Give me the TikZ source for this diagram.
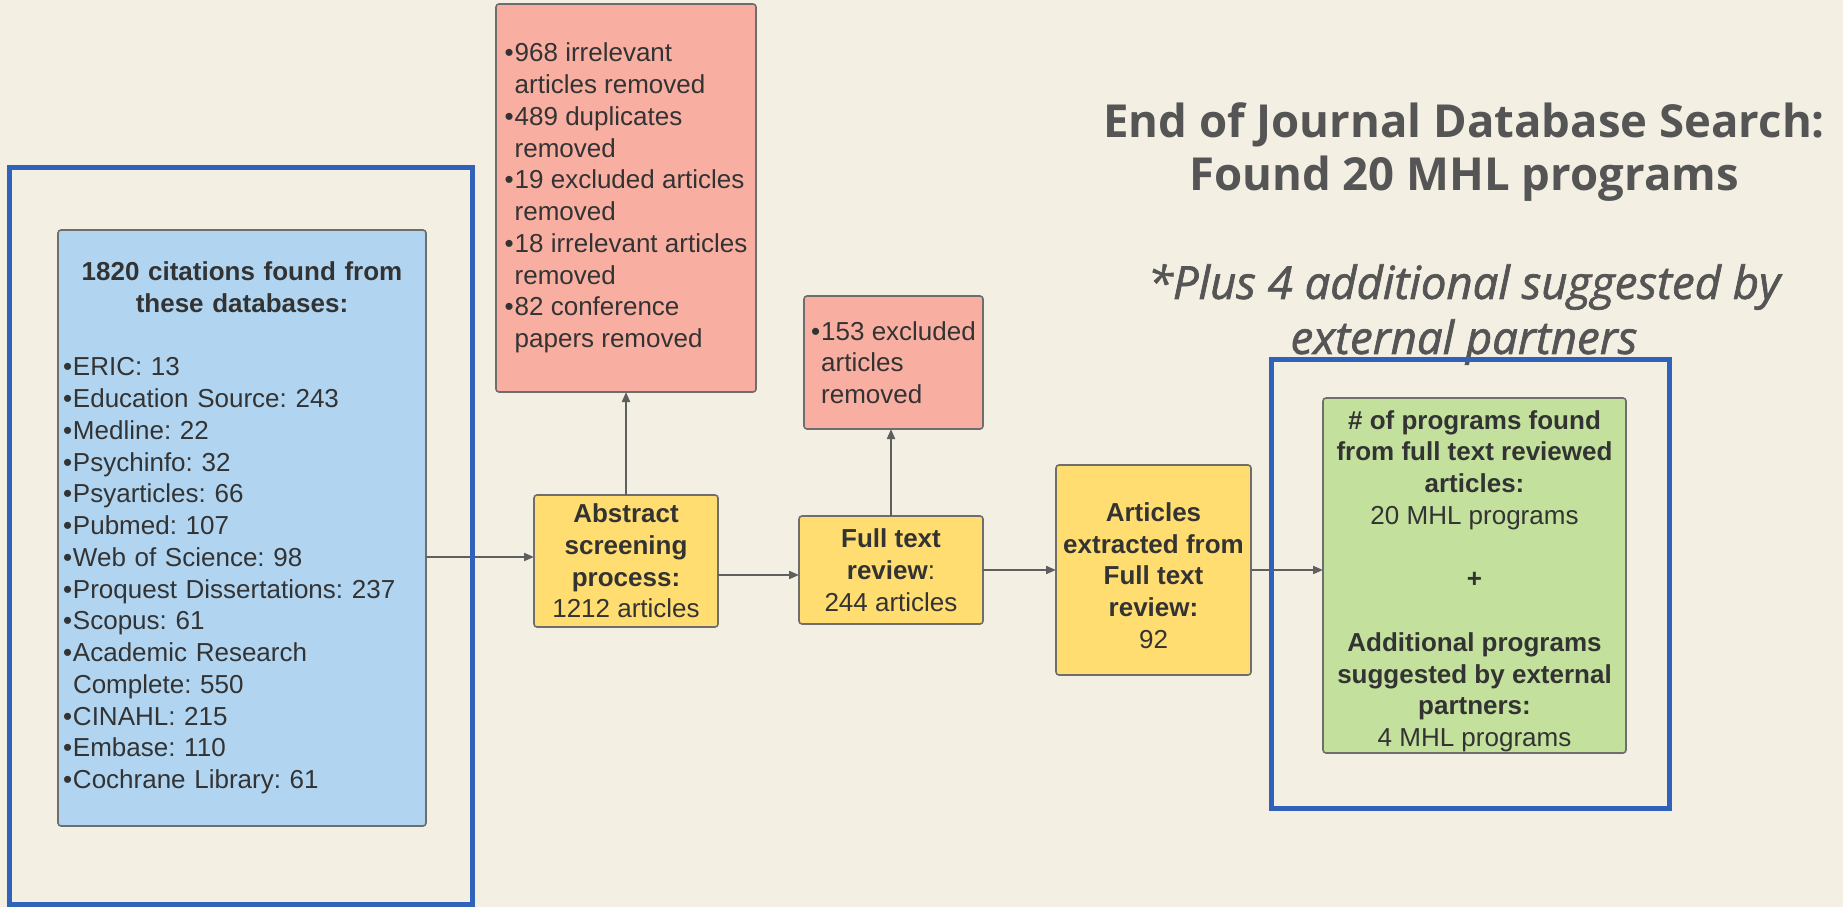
\documentclass[tikz,border=0pt]{standalone}
\usepackage{fontspec}
\setmainfont{Liberation Sans}
\newfontfamily\headfont{Open Sans}
\newfontfamily\notefont[ItalicFeatures={FakeBold=1.5}]{Open Sans}
\usetikzlibrary{arrows.meta}

\definecolor{paper}{HTML}{F3F0E3}
\definecolor{ink}{HTML}{333333}
\definecolor{headink}{HTML}{555555}
\definecolor{boxline}{HTML}{6E6E6E}
\definecolor{linkcol}{HTML}{5F5F5F}
\definecolor{bluefill}{HTML}{B1D5F0}
\definecolor{redfill}{HTML}{F9AEA2}
\definecolor{yelfill}{HTML}{FFDD71}
\definecolor{greenfill}{HTML}{C3E09C}
\definecolor{framecol}{HTML}{2F62B8}

% bullet of fixed width, and the matching indent for wrapped lines
\newcommand\bul{\makebox[10pt][l]{\textbullet}}
\newcommand\cont{\hspace*{10pt}}
% taller first line, pushes a centred text block slightly down
\newcommand\topstrut{\rule{0pt}{30pt}}
\frenchspacing

\begin{document}
\begin{tikzpicture}[x=1pt,y=-1pt,
  box/.style={draw=boxline, line width=1.6pt, rounded corners=3pt,
    inner sep=0pt, outer sep=0pt, anchor=north west, text=ink,
    font=\fontsize{26}{31.75}\selectfont},
  groupframe/.style={draw=framecol, line width=5pt, inner sep=0pt,
    outer sep=0pt, anchor=north west},
  link/.style={draw=linkcol, line width=2pt,
    -{Triangle[length=10pt,width=8pt]}},
  heading/.style={text=headink, align=center, inner sep=0pt}
]
\fill[paper] (0,0) rectangle (1843,907);
\useasboundingbox (0,0) rectangle (1843,907);

% source databases
\node[box, fill=bluefill, minimum width=368pt, minimum height=596pt,
      text width=358pt, align=left] (db) at (58,230)
  {{\centering\bfseries 1820 citations found from\\these databases:\par}
   \vspace{31.75pt}
   \bul ERIC: 13\\
   \bul Education Source: 243\\
   \bul Medline: 22\\
   \bul Psychinfo: 32\\
   \bul Psyarticles: 66\\
   \bul Pubmed: 107\\
   \bul Web of Science: 98\\
   \bul Proquest Dissertations: 237\\
   \bul Scopus: 61\\
   \bul Academic Research\\
   \cont Complete: 550\\
   \bul CINAHL: 215\\
   \bul Embase: 110\\
   \bul Cochrane Library: 61\par};

% screening steps
\node[box, fill=yelfill, minimum width=184pt, minimum height=132pt,
      align=center] (abs) at (534,495)
  {\textbf{Abstract}\\\textbf{screening}\\\textbf{process:}\\1212 articles};
\node[box, fill=yelfill, minimum width=184pt, minimum height=108pt,
      align=center] (full) at (799,516)
  {\textbf{Full text}\\\textbf{review}:\\244 articles};
\node[box, fill=yelfill, minimum width=195pt, minimum height=210pt,
      align=center] (extr) at (1056,465)
  {\topstrut\textbf{Articles}\\\textbf{extracted from}\\\textbf{Full text}\\\textbf{review:}\\92};

% exclusions
\node[box, fill=redfill, minimum width=260pt, minimum height=388pt,
      align=left] (rem1) at (496,4)
  {\bul 968 irrelevant\\\cont articles removed\\
   \bul 489 duplicates\\\cont removed\\
   \bul 19 excluded articles\\\cont removed\\
   \bul 18 irrelevant articles\\\cont removed\\
   \bul 82 conference\\\cont papers removed};
\node[box, fill=redfill, minimum width=179pt, minimum height=133pt,
      align=left] (rem2) at (804,296)
  {\bul 153 excluded\\\cont articles\\\cont removed};

% result
\node[box, fill=greenfill, minimum width=303pt, minimum height=355pt,
      align=center] (res) at (1323,398)
  {\topstrut\textbf{\# of programs found}\\\textbf{from full text reviewed}\\
   \textbf{articles:}\\20 MHL programs\\[31.75pt]
   \textbf{+}\\[31.75pt]
   \textbf{Additional programs}\\\textbf{suggested by external}\\
   \textbf{partners:}\\4 MHL programs};

% headings
\node[heading, font=\headfont\bfseries\fontsize{45.5}{53}\selectfont] (head)
  at (1464,152) {End of Journal Database Search:\\Found 20 MHL programs};
\node[heading, font=\notefont\itshape\fontsize{45.5}{55}\selectfont] (note)
  at (1464,314.5) {*Plus 4 additional suggested by\\external partners};

% connectors
\draw[link] (db.east |- 0,557) -- (abs.west |- 0,557);
\draw[link] (abs.north) -- (rem1.south -| abs.north);
\draw[link] (abs.east |- 0,575) -- (full.west |- 0,575);
\draw[link] (full.north) -- (rem2.south -| full.north);
\draw[link] (full.east |- 0,570) -- (extr.west |- 0,570);
\draw[link] (extr.east |- 0,570) -- (res.west |- 0,570);

% grouping frames
\node[groupframe, minimum width=463pt, minimum height=737pt] (grp1) at (9.5,167) {};
\node[groupframe, minimum width=398.5pt, minimum height=449pt] (grp2) at (1271,359.5) {};
\end{tikzpicture}
\end{document}
